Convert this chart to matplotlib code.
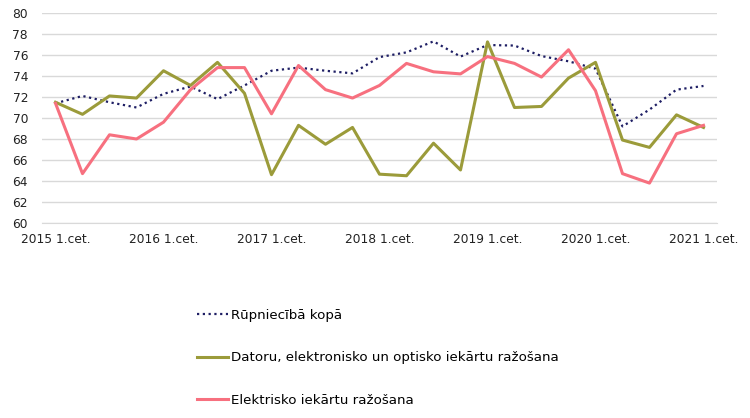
import matplotlib
matplotlib.use("Agg")
from matplotlib import pyplot

# quarters 2015 Q1 .. 2021 Q1
quarters = ["%d %d.cet." % (2015 + i // 4, i % 4 + 1) for i in range(25)]
tick_labels = [q if q.endswith(" 1.cet.") else "" for q in quarters]

total = [71.4, 72.1, 71.5, 71.0, 72.3, 73.0, 71.8, 73.1,
         74.5, 74.8, 74.5, 74.25, 75.8, 76.25, 77.3, 75.85,
         76.95, 76.9, 75.9, 75.4, 74.7, 69.2, 70.8, 72.7, 73.05]
computers = [71.5, 70.35, 72.1, 71.9, 74.5, 73.1, 75.3, 72.35,
             64.6, 69.3, 67.5, 69.1, 64.65, 64.5, 67.6, 65.05,
             77.25, 71.0, 71.1, 73.8, 75.3, 67.9, 67.2, 70.3, 69.1]
electrical = [71.4, 64.7, 68.4, 68.0, 69.6, 72.7, 74.8, 74.8,
              70.4, 75.0, 72.7, 71.9, 73.1, 75.2, 74.4, 74.2,
              75.85, 75.2, 73.9, 76.5, 72.6, 64.7, 63.8, 68.5, 69.3]

labels = ["Rūpniecībā kopā",
          "Datoru, elektronisko un optisko iekārtu ražošana",
          "Elektrisko iekārtu ražošana"]

fontsize = 8.8
legend_fontsize = 9.6
pyplot.rcParams['font.family'] = ['DejaVu Sans']

fig = pyplot.figure(figsize=(7.5, 4.18), dpi=100)
axes = fig.add_axes((42 / 750, 1 - 223 / 418, 675 / 750, 210 / 418))

x = list(range(len(quarters)))
axes.plot(x, total, color="#1E1E64", linestyle=(0, (1, 1.6)), linewidth=1.6,
          label=labels[0])
axes.plot(x, computers, color="#9B9B3A", linewidth=2.2, label=labels[1])
axes.plot(x, electrical, color="#F7707F", linewidth=2.2, label=labels[2])

axes.set_xlim(-0.5, len(quarters) - 0.5)
axes.set_ylim(60, 80)
axes.set_yticks(range(60, 81, 2))
axes.set_xticks(x)
axes.set_xticklabels(tick_labels)
axes.tick_params(axis='both', length=0, labelsize=fontsize, colors="#222222")
axes.tick_params(axis='y', pad=10)
axes.tick_params(axis='x', pad=7)
axes.grid(axis='y', color="#D9D9D9", linewidth=1)
axes.set_axisbelow(True)
for side in ['top', 'right', 'left']:
    axes.spines[side].set_visible(False)
axes.spines['bottom'].set_color("#D9D9D9")

fig.legend(loc='upper left', bbox_to_anchor=(197 / 750, 1 - 309 / 418),
           frameon=False, fontsize=legend_fontsize, handlelength=2.3,
           handletextpad=0.25, labelspacing=2.2, borderpad=0,
           borderaxespad=0)

fig.savefig('out.png', dpi=100)
